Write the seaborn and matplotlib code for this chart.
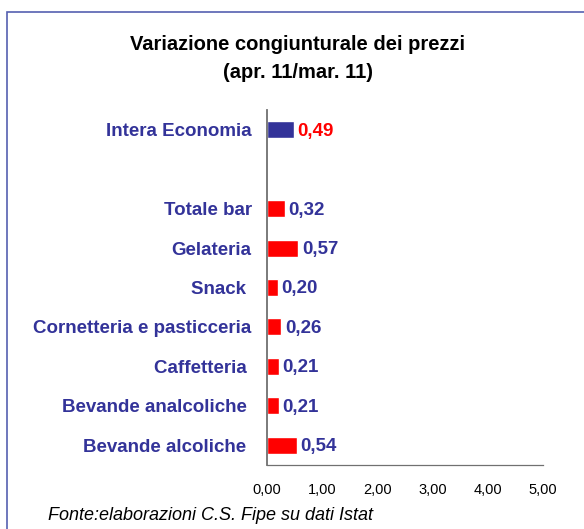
import numpy as np
import matplotlib.pyplot as plt
import pandas as pd
import seaborn as sns
from matplotlib.patches import Rectangle

categories = ["Intera Economia", "", "Totale bar", "Gelateria", "Snack ",
              "Cornetteria e pasticceria", "Caffetteria ",
              "Bevande analcoliche ", "Bevande alcoliche "]
values = [0.49, np.nan, 0.32, 0.57, 0.20, 0.26, 0.21, 0.21, 0.54]
value_labels = ["0,49", "", "0,32", "0,57", "0,20", "0,26", "0,21", "0,21", "0,54"]
x_ticks = [0, 1, 2, 3, 4, 5]
x_ticklabels = ["0,00", "1,00", "2,00", "3,00", "4,00", "5,00"]

navy = "#333399"
df = pd.DataFrame({"cat": categories, "val": values})
colors = {c: ("#333399" if c == "Intera Economia" else "#ff0000") for c in categories}

sns.set_style("white")
plt.rcParams["font.family"] = ["Liberation Sans", "DejaVu Sans"]
plt.rcParams["text.color"] = "black"

fig = plt.figure(figsize=(5.84, 5.29), dpi=100)
ax = fig.add_axes([267 / 584, 1 - 465 / 529, 276 / 584, 355 / 529])

sns.barplot(data=df, x="val", y="cat", hue="cat", order=categories,
            palette=colors, orient="h", width=0.43, legend=False, ax=ax,
            saturation=1)

ax.set_xlim(0, 5)
ax.set_xticks(x_ticks)
ax.set_xticklabels(x_ticklabels, fontsize=10.5, color="black")
ax.set_xlabel("")
ax.set_ylabel("")
ax.tick_params(axis="x", direction="out", length=5, width=0.8, color="#666666", pad=8)
ax.tick_params(axis="y", length=0, pad=11)
for lab in ax.get_yticklabels():
    lab.set_fontweight("bold")
    lab.set_color(navy)
    lab.set_fontsize(13.5)

for s in ["top", "right"]:
    ax.spines[s].set_visible(False)
ax.spines["left"].set_color("#707070")
ax.spines["bottom"].set_color("#707070")
ax.spines["left"].set_linewidth(1.3)
ax.spines["bottom"].set_linewidth(0.9)

for i, (v, t) in enumerate(zip(values, value_labels)):
    if np.isnan(v):
        continue
    ax.annotate(t, (v, i), xytext=(2.5, -1), textcoords="offset points",
                va="center", ha="left", fontsize=13.5, fontweight="bold",
                color="#ff0000" if i == 0 else navy)

fig.text(298 / 584, 1 - 45 / 529, "Variazione congiunturale dei prezzi",
         ha="center", va="center", fontsize=14.5, fontweight="bold", color="black")
fig.text(298 / 584, 1 - 72 / 529, "(apr. 11/mar. 11)",
         ha="center", va="center", fontsize=14.5, fontweight="bold", color="black")
fig.text(48 / 584, 1 - 515 / 529, "Fonte:elaborazioni C.S. Fipe su dati Istat",
         ha="left", va="center", fontsize=13, style="italic", color="black")

fig.patches.append(Rectangle((7, -20), 600, 537, transform=None, fill=False,
                             edgecolor="#5560b0", linewidth=1.2))

fig.savefig("out.png", dpi=100)
